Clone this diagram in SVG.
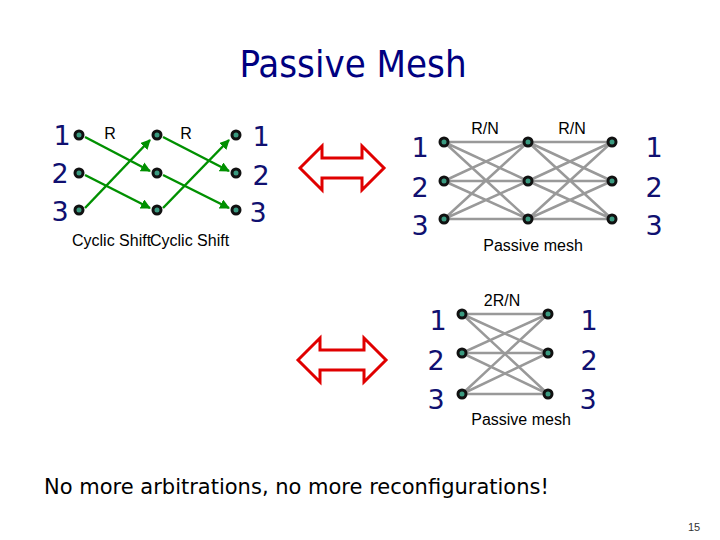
<svg xmlns="http://www.w3.org/2000/svg" width="720" height="540" viewBox="0 0 720 540">
<style>
.n{fill:#3a9a80;stroke:#111;stroke-width:3}
.num{font-family:"DejaVu Sans",sans-serif;font-size:27px;fill:#101070}
.lbl{font-family:"Liberation Sans",Arial,sans-serif;font-size:16px;fill:#000}
.g{stroke:#009000;stroke-width:2.5;fill:none;marker-end:url(#ah)}
.m{stroke:#999;stroke-width:2.5}
.ra{fill:#fff;stroke:#e00000;stroke-width:3}
</style>
<defs><marker id="ah" viewBox="0 0 10 10" refX="9" refY="5" markerWidth="4" markerHeight="4" orient="auto"><path d="M0,0L10,5L0,10z" fill="#009000"/></marker></defs>
<rect width="720" height="540" fill="#fff"/>
<text x="353" y="77" text-anchor="middle" font-family="DejaVu Sans Condensed,DejaVu Sans,sans-serif" font-size="38" fill="#000080">Passive Mesh</text>
<g id="connectors">
<path class="g" d="M85,137L150,171"/><path class="g" d="M85,175L150,208"/><path class="g" d="M85,208L150,140"/>
<path class="g" d="M163,137L229,171"/><path class="g" d="M163,175L229,208"/><path class="g" d="M163,208L229,140"/>
<g class="m">
<path d="M444,142L528,142M444,142L528,181M444,142L528,219M444,181L528,142M444,181L528,181M444,181L528,219M444,219L528,142M444,219L528,181M444,219L528,219"/>
<path d="M528,142L612,142M528,142L612,181M528,142L612,219M528,181L612,142M528,181L612,181M528,181L612,219M528,219L612,142M528,219L612,181M528,219L612,219"/>
<path d="M462,314L548,314M462,314L548,353M462,314L548,394M462,353L548,314M462,353L548,353M462,353L548,394M462,394L548,314M462,394L548,353M462,394L548,394"/>
</g>
<path class="ra" d="M300,168L322,146L322,158L362,158L362,146L384,168L362,190L362,178L322,178L322,190Z"/>
<path class="ra" d="M298,360L320,338L320,350L364,350L364,338L386,360L364,382L364,370L320,370L320,382Z"/>
</g>
<g id="left">
<circle class="n" cx="79" cy="135" r="4"/><circle class="n" cx="79" cy="173" r="4"/><circle class="n" cx="79" cy="210" r="4"/>
<circle class="n" cx="157" cy="135" r="4"/><circle class="n" cx="157" cy="173" r="4"/><circle class="n" cx="157" cy="210" r="4"/>
<circle class="n" cx="236" cy="135" r="4"/><circle class="n" cx="236" cy="173" r="4"/><circle class="n" cx="236" cy="210" r="4"/>
<text class="num" x="62" y="145" text-anchor="middle">1</text><text class="num" x="60" y="183" text-anchor="middle">2</text><text class="num" x="60" y="221" text-anchor="middle">3</text>
<text class="num" x="261" y="146" text-anchor="middle">1</text><text class="num" x="261" y="185" text-anchor="middle">2</text><text class="num" x="258" y="222" text-anchor="middle">3</text>
<text class="lbl" x="110" y="139" text-anchor="middle">R</text><text class="lbl" x="186" y="139" text-anchor="middle">R</text>
<text class="lbl" x="72" y="246">Cyclic Shift</text><text class="lbl" x="150" y="246">Cyclic Shift</text>
</g>
<g id="mesh1">
<circle class="n" cx="444" cy="142" r="4"/><circle class="n" cx="444" cy="181" r="4"/><circle class="n" cx="444" cy="219" r="4"/>
<circle class="n" cx="528" cy="142" r="4"/><circle class="n" cx="528" cy="181" r="4"/><circle class="n" cx="528" cy="219" r="4"/>
<circle class="n" cx="612" cy="142" r="4"/><circle class="n" cx="612" cy="181" r="4"/><circle class="n" cx="612" cy="219" r="4"/>
<text class="num" x="420" y="157" text-anchor="middle">1</text><text class="num" x="420" y="197" text-anchor="middle">2</text><text class="num" x="420" y="235" text-anchor="middle">3</text>
<text class="num" x="654" y="157" text-anchor="middle">1</text><text class="num" x="654" y="197" text-anchor="middle">2</text><text class="num" x="654" y="235" text-anchor="middle">3</text>
<text class="lbl" x="485" y="134" text-anchor="middle">R/N</text><text class="lbl" x="572" y="134" text-anchor="middle">R/N</text>
<text class="lbl" x="533" y="251" text-anchor="middle">Passive mesh</text>
</g>
<g id="mesh2">
<circle class="n" cx="462" cy="314" r="4"/><circle class="n" cx="462" cy="353" r="4"/><circle class="n" cx="462" cy="394" r="4"/>
<circle class="n" cx="548" cy="314" r="4"/><circle class="n" cx="548" cy="353" r="4"/><circle class="n" cx="548" cy="394" r="4"/>
<text class="num" x="438" y="330" text-anchor="middle">1</text><text class="num" x="436" y="370" text-anchor="middle">2</text><text class="num" x="436" y="409" text-anchor="middle">3</text>
<text class="num" x="589" y="330" text-anchor="middle">1</text><text class="num" x="589" y="370" text-anchor="middle">2</text><text class="num" x="588" y="409" text-anchor="middle">3</text>
<text class="lbl" x="502" y="306" text-anchor="middle">2R/N</text>
<text class="lbl" x="521" y="425" text-anchor="middle">Passive mesh</text>
</g>
<text x="44" y="494" font-family="DejaVu Sans,sans-serif" font-size="21" fill="#000">No more arbitrations, no more reconfigurations!</text>
<text x="688" y="531" font-family="Liberation Sans,sans-serif" font-size="11" fill="#333">15</text>
</svg>
